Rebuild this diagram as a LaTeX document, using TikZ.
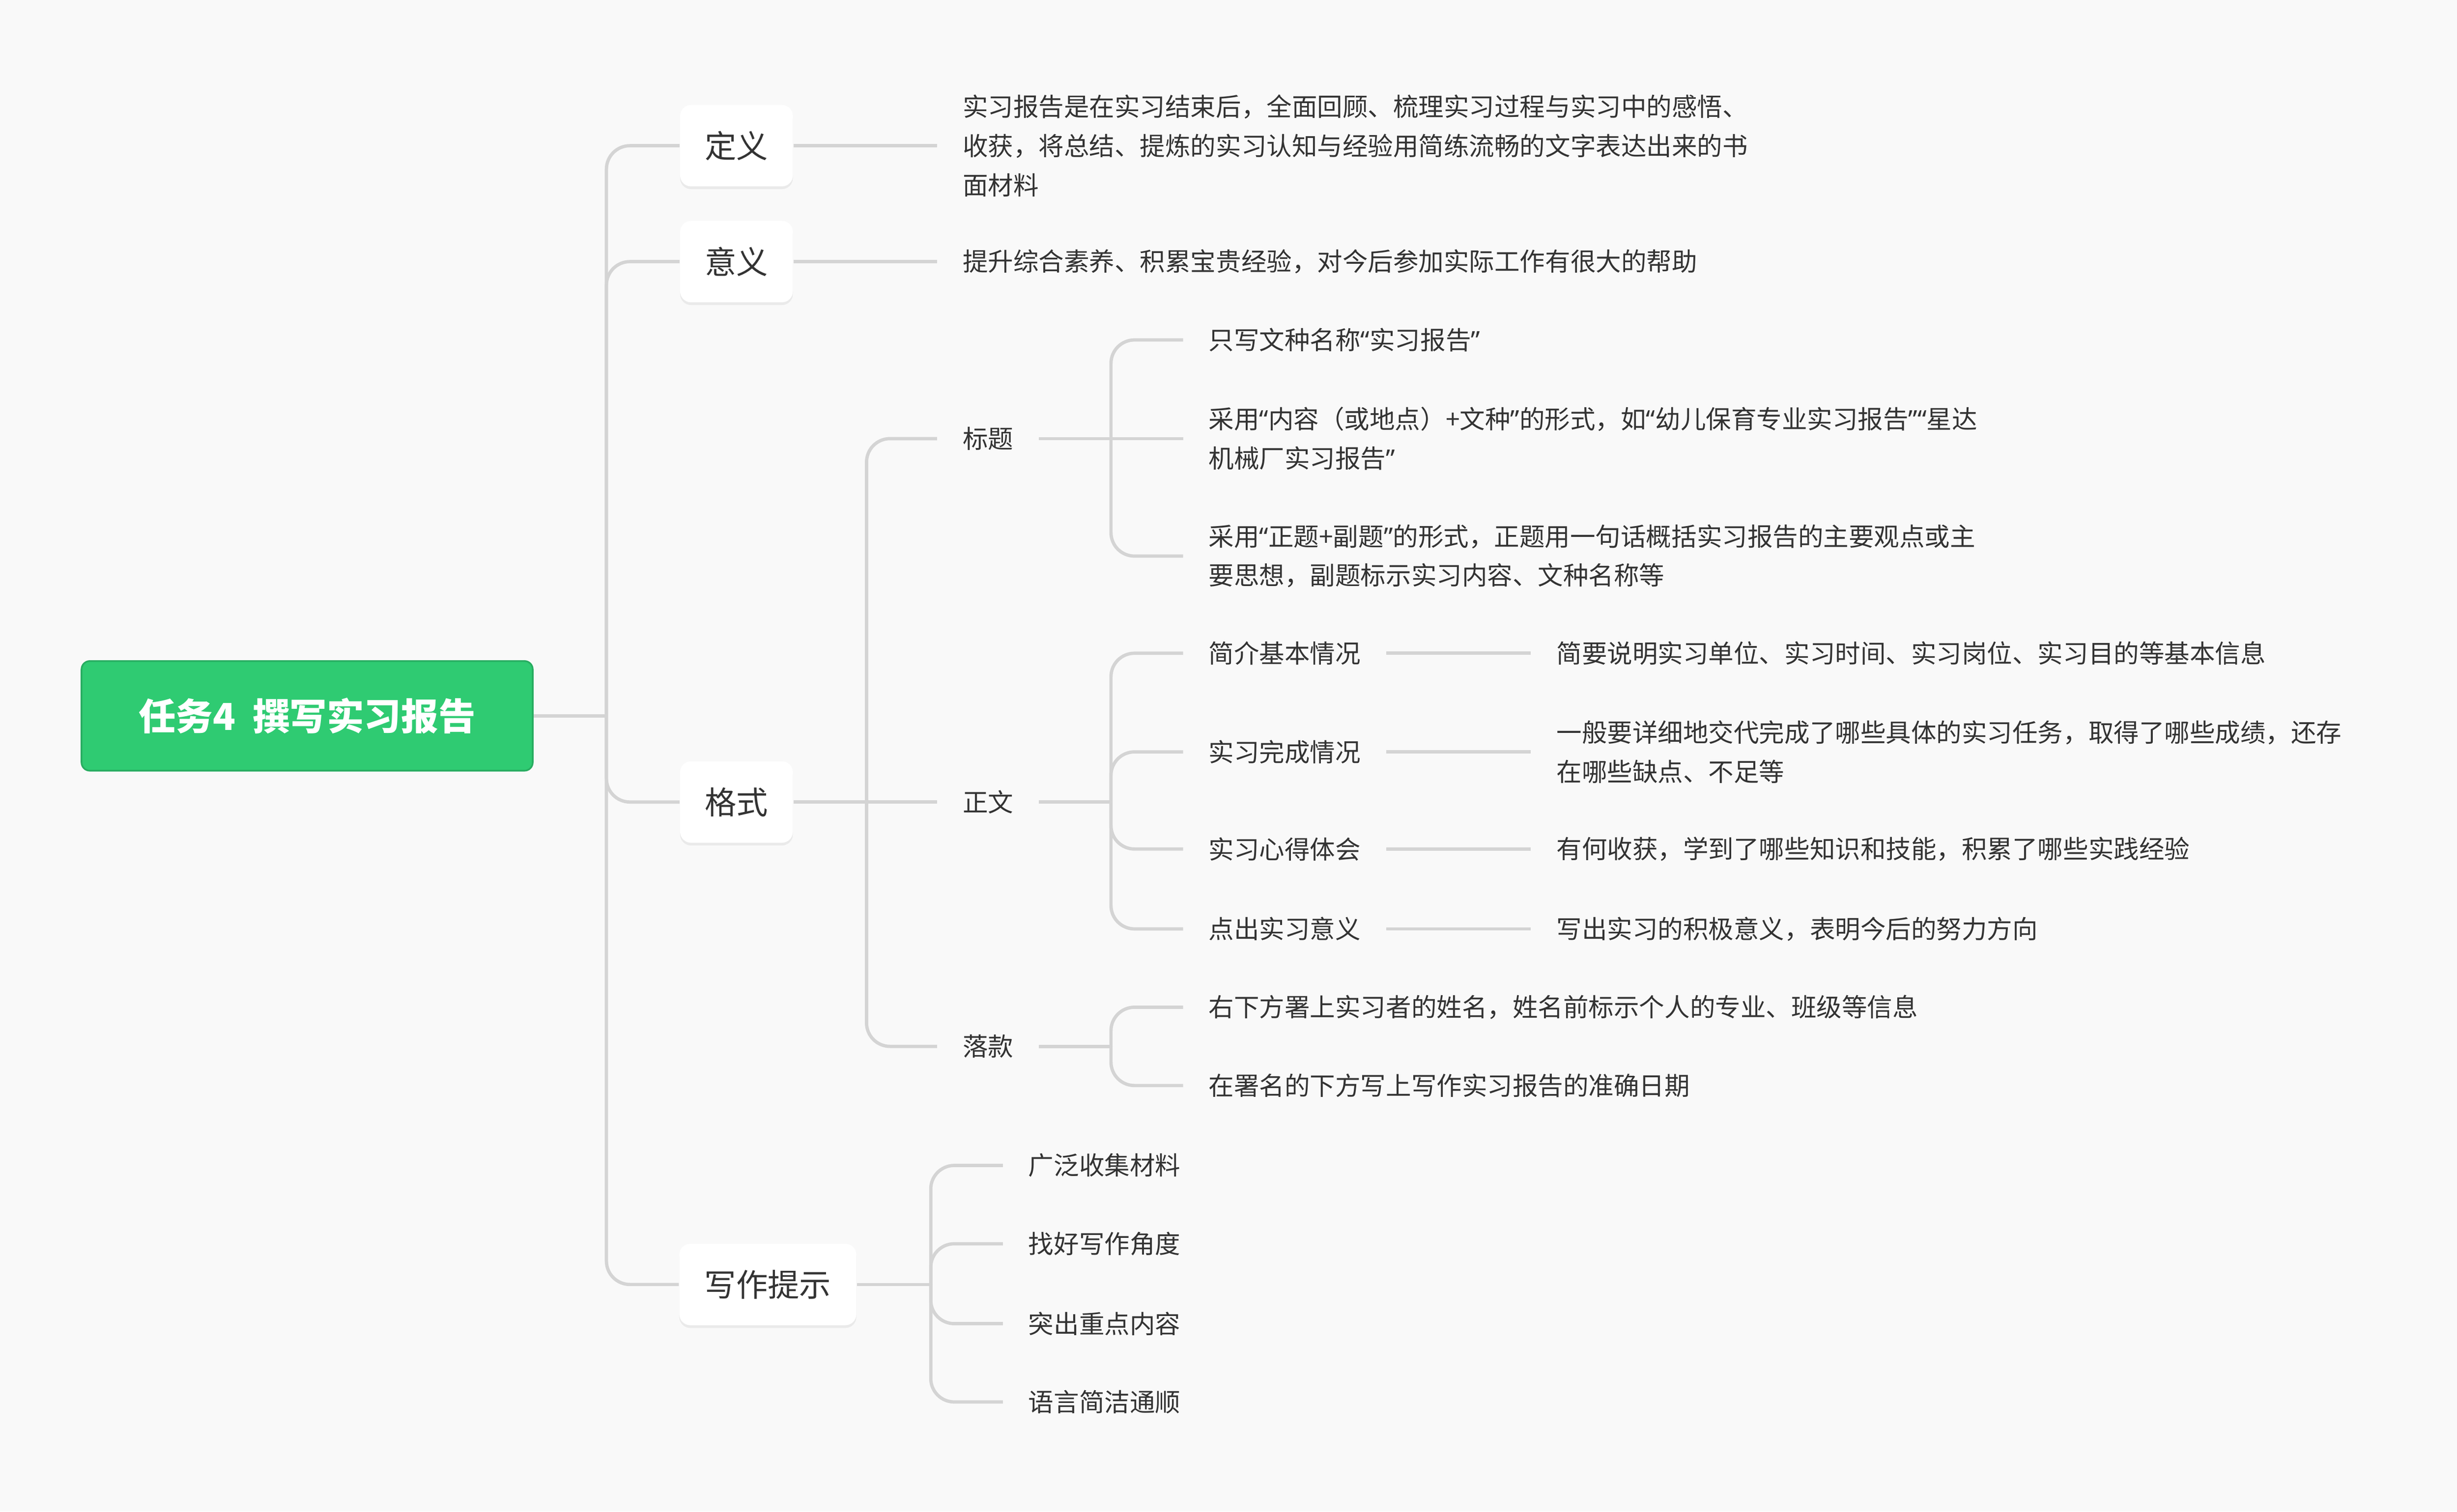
\documentclass[tikz,border=0pt]{standalone}
\usepackage{fontspec}
\setmainfont{Noto Sans CJK SC}
\newfontfamily\quotefont{Noto Sans}
\newcommand\qt[1]{{\quotefont “}#1{\quotefont ”}}
\usetikzlibrary{shadows}
\definecolor{bgc}{HTML}{F9F9F9}
\definecolor{leafc}{HTML}{333333}
\definecolor{linec}{HTML}{D4D4D4}
\definecolor{rootc}{HTML}{2FCB72}

\tikzset{
  conn/.style={draw=linec,line width=1.2pt,rounded corners=0.3cm},
  rootbox/.style={fill=rootc,draw=rootc!85!black,line width=0.6pt,rounded corners=3pt,minimum width=5.76cm,minimum height=1.4cm,text=white,font=\fontsize{13.5}{16}\selectfont\bfseries},
  topicbox/.style={fill=white,rounded corners=4pt,minimum height=1.04cm,minimum width=1.44cm,text=leafc,font=\fontsize{11.5}{14}\selectfont,drop shadow={opacity=0.12,shadow xshift=0pt,shadow yshift=-1pt}},
  leaf/.style={anchor=west,inner xsep=0.32cm,inner ysep=0pt,text=leafc,align=left,font=\fontsize{9.2}{14.2}\selectfont}
}

\begin{document}
\begin{tikzpicture}[x=0.02cm,y=-0.02cm]
\useasboundingbox[fill=bgc] (0,0) rectangle (1568,965);
% root and first level
\node[rootbox] (root) at (196,457) {任务4\ \ 撰写实习报告};
\node[topicbox] (def) at (470,93) {定义};
\node[topicbox] (mean) at (470,167) {意义};
\node[topicbox] (fmt) at (470,512) {格式};
\node[topicbox,minimum width=2.26cm] (tips) at (490,820) {写作提示};
\coordinate (h0) at (387,457);
\draw[conn] (root.east) -- (h0);
\foreach \t in {def,mean,fmt,tips}
  \draw[conn] (h0) |- (\t.west);

% 定义 / 意义
\node[leaf] (defT) at (598,93) {实习报告是在实习结束后，全面回顾、梳理实习过程与实习中的感悟、\\收获，将总结、提炼的实习认知与经验用简练流畅的文字表达出来的书\\面材料};
\node[leaf] (meanT) at (598,167) {提升综合素养、积累宝贵经验，对今后参加实际工作有很大的帮助};
\draw[conn] (def.east) -- (defT.west);
\draw[conn] (mean.east) -- (meanT.west);

% 格式
\node[leaf] (title) at (598,280) {标题};
\node[leaf] (body) at (598,512) {正文};
\node[leaf] (sign) at (598,668) {落款};
\coordinate (h1) at (553,512);
\draw[conn] (fmt.east) -- (body.west);
\draw[conn] (h1) |- (title.west);
\draw[conn] (h1) |- (sign.west);

% 标题
\node[leaf] (t1) at (755,217) {只写文种名称\qt{实习报告}};
\node[leaf] (t2) at (755,280) {采用\qt{内容（或地点）+文种}的形式，如\qt{幼儿保育专业实习报告}\qt{星达\\机械厂实习报告}};
\node[leaf] (t3) at (755,355) {采用\qt{正题+副题}的形式，正题用一句话概括实习报告的主要观点或主\\要思想，副题标示实习内容、文种名称等};
\coordinate (h2) at (709,280);
\draw[conn] (title.east) -- (t2.west);
\draw[conn] (h2) |- (t1.west);
\draw[conn] (h2) |- (t3.west);

% 正文
\node[leaf] (b1) at (755,417) {简介基本情况};
\node[leaf] (b2) at (755,480) {实习完成情况};
\node[leaf] (b3) at (755,542) {实习心得体会};
\node[leaf] (b4) at (755,593) {点出实习意义};
\coordinate (h3) at (709,512);
\draw[conn] (body.east) -- (h3);
\foreach \b in {b1,b2,b3,b4}
  \draw[conn] (h3) |- (\b.west);
\node[leaf] (b1T) at (977,417) {简要说明实习单位、实习时间、实习岗位、实习目的等基本信息};
\node[leaf] (b2T) at (977,480) {一般要详细地交代完成了哪些具体的实习任务，取得了哪些成绩，还存\\在哪些缺点、不足等};
\node[leaf] (b3T) at (977,542) {有何收获，学到了哪些知识和技能，积累了哪些实践经验};
\node[leaf] (b4T) at (977,593) {写出实习的积极意义，表明今后的努力方向};
\foreach \b in {b1,b2,b3,b4}
  \draw[conn] (\b.east) -- (\b T.west);

% 落款
\node[leaf] (s1) at (755,643) {右下方署上实习者的姓名，姓名前标示个人的专业、班级等信息};
\node[leaf] (s2) at (755,693) {在署名的下方写上写作实习报告的准确日期};
\coordinate (h4) at (709,668);
\draw[conn] (sign.east) -- (h4);
\draw[conn] (h4) |- (s1.west);
\draw[conn] (h4) |- (s2.west);

% 写作提示
\node[leaf] (w1) at (640,744) {广泛收集材料};
\node[leaf] (w2) at (640,794) {找好写作角度};
\node[leaf] (w3) at (640,845) {突出重点内容};
\node[leaf] (w4) at (640,895) {语言简洁通顺};
\coordinate (h5) at (594,820);
\draw[conn] (tips.east) -- (h5);
\foreach \w in {w1,w2,w3,w4}
  \draw[conn] (h5) |- (\w.west);
\end{tikzpicture}
\end{document}
